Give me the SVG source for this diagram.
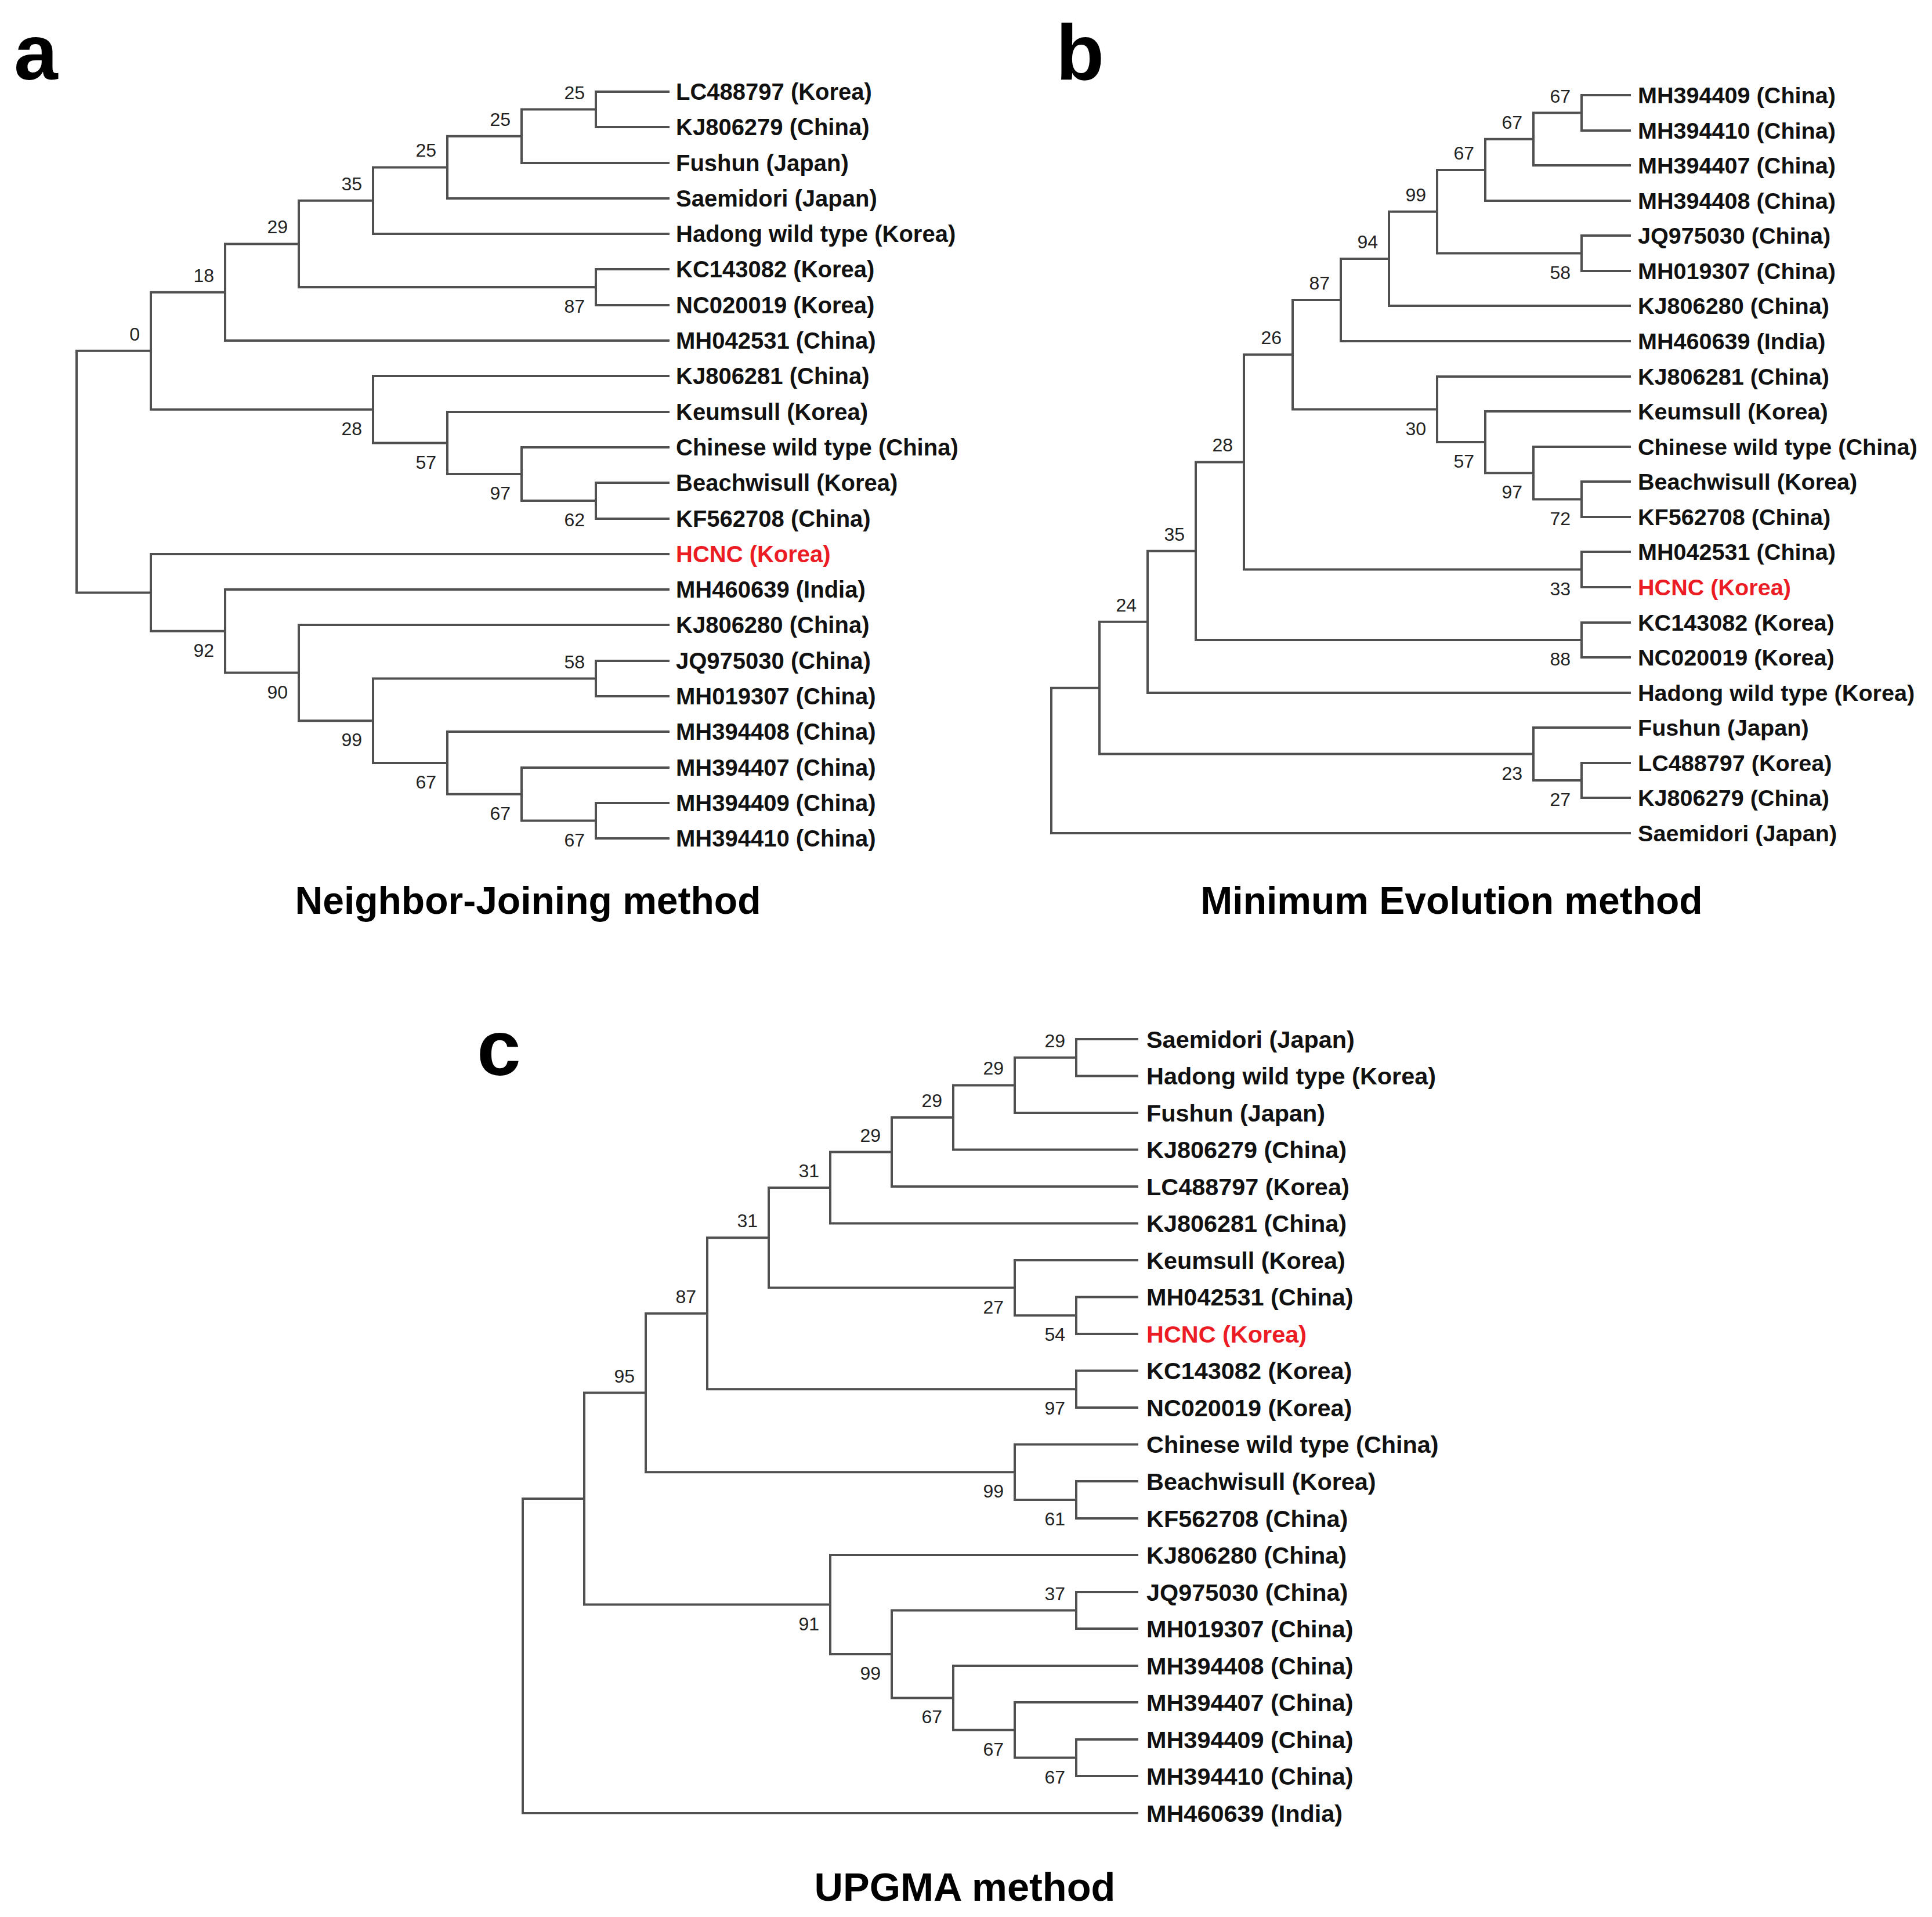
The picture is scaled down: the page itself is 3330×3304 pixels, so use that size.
<svg xmlns="http://www.w3.org/2000/svg" width="3330" height="3304" viewBox="0 0 3330 3304">
<style>
.br{fill:none;stroke:#505050;stroke-width:4;stroke-linecap:square;stroke-linejoin:miter}
.lf{font-family:"Liberation Sans",Arial,sans-serif;font-weight:bold;font-size:40px;fill:#111}
#b-leaves .lf{font-size:39.6px}
#c-leaves .lf{font-size:41.4px}
.red{fill:#ec1c24}
.bs{font-family:"Liberation Sans",Arial,sans-serif;font-size:32px;fill:#222;text-anchor:end}
.ttl{font-family:"Liberation Sans",Arial,sans-serif;font-weight:bold;font-size:66px;fill:#000;text-anchor:middle}
.pl{font-family:"Liberation Sans",Arial,sans-serif;font-weight:bold;font-size:136px;fill:#000}
</style>
<rect width="3330" height="3304" fill="#fff"/>

<!-- Panel a -->
<g id="panel-a">
<text class="pl" x="24" y="137">a</text>
<g id="a-connectors">
<path class="br" d="M260 604.7H132V1021.4H260"/>
<path class="br" d="M388 503.7H260V705.8H643"/>
<path class="br" d="M515 420.4H388V587H1152"/>
<path class="br" d="M643 345.7H515V495H1027"/>
<path class="br" d="M771 288.4H643V403H1152"/>
<path class="br" d="M899 234.75H771V342H1152"/>
<path class="br" d="M1027 188.5H899V281H1152"/>
<path class="br" d="M1152 158H1027V219H1152"/>
<path class="br" d="M1152 464H1027V526H1152"/>
<path class="br" d="M1152 648H643V763.5H771"/>
<path class="br" d="M1152 710H771V817H899"/>
<path class="br" d="M1152 771H899V863H1027"/>
<path class="br" d="M1152 832H1027V894H1152"/>
<path class="br" d="M1152 955H260V1087.8H388"/>
<path class="br" d="M1152 1016H388V1159.6H515"/>
<path class="br" d="M1152 1077H515V1242.2H643"/>
<path class="br" d="M1027 1169.5H643V1314.9H771"/>
<path class="br" d="M1152 1139H1027V1200H1152"/>
<path class="br" d="M1152 1261H771V1368.8H899"/>
<path class="br" d="M1152 1323H899V1414.5H1027"/>
<path class="br" d="M1152 1384H1027V1445H1152"/>
</g>
<g id="a-leaves">
<g id="a-LC488797"><text class="lf" x="1165" y="172">LC488797 (Korea)</text></g>
<g id="a-KJ806279"><text class="lf" x="1165" y="233">KJ806279 (China)</text></g>
<g id="a-Fushun"><text class="lf" x="1165" y="295">Fushun (Japan)</text></g>
<g id="a-Saemidori"><text class="lf" x="1165" y="356">Saemidori (Japan)</text></g>
<g id="a-Hadong"><text class="lf" x="1165" y="417">Hadong wild type (Korea)</text></g>
<g id="a-KC143082"><text class="lf" x="1165" y="478">KC143082 (Korea)</text></g>
<g id="a-NC020019"><text class="lf" x="1165" y="540">NC020019 (Korea)</text></g>
<g id="a-MH042531"><text class="lf" x="1165" y="601">MH042531 (China)</text></g>
<g id="a-KJ806281"><text class="lf" x="1165" y="662">KJ806281 (China)</text></g>
<g id="a-Keumsull"><text class="lf" x="1165" y="724">Keumsull (Korea)</text></g>
<g id="a-Chinese"><text class="lf" x="1165" y="785">Chinese wild type (China)</text></g>
<g id="a-Beachwisull"><text class="lf" x="1165" y="846">Beachwisull (Korea)</text></g>
<g id="a-KF562708"><text class="lf" x="1165" y="908">KF562708 (China)</text></g>
<g id="a-HCNC"><text class="lf red" x="1165" y="969">HCNC (Korea)</text></g>
<g id="a-MH460639"><text class="lf" x="1165" y="1030">MH460639 (India)</text></g>
<g id="a-KJ806280"><text class="lf" x="1165" y="1091">KJ806280 (China)</text></g>
<g id="a-JQ975030"><text class="lf" x="1165" y="1153">JQ975030 (China)</text></g>
<g id="a-MH019307"><text class="lf" x="1165" y="1214">MH019307 (China)</text></g>
<g id="a-MH394408"><text class="lf" x="1165" y="1275">MH394408 (China)</text></g>
<g id="a-MH394407"><text class="lf" x="1165" y="1337">MH394407 (China)</text></g>
<g id="a-MH394409"><text class="lf" x="1165" y="1398">MH394409 (China)</text></g>
<g id="a-MH394410"><text class="lf" x="1165" y="1459">MH394410 (China)</text></g>
</g>
<g id="a-bootstrap">
<text class="bs" x="1008" y="170.5">25</text>
<text class="bs" x="880" y="216.8">25</text>
<text class="bs" x="752" y="270.4">25</text>
<text class="bs" x="624" y="327.7">35</text>
<text class="bs" x="496" y="402.4">29</text>
<text class="bs" x="369" y="485.7">18</text>
<text class="bs" x="241" y="586.7">0</text>
<text class="bs" x="1008" y="539">87</text>
<text class="bs" x="624" y="749.8">28</text>
<text class="bs" x="752" y="807.5">57</text>
<text class="bs" x="880" y="861">97</text>
<text class="bs" x="1008" y="907">62</text>
<text class="bs" x="369" y="1131.8">92</text>
<text class="bs" x="496" y="1203.6">90</text>
<text class="bs" x="624" y="1286.2">99</text>
<text class="bs" x="1008" y="1151.5">58</text>
<text class="bs" x="752" y="1358.9">67</text>
<text class="bs" x="880" y="1412.8">67</text>
<text class="bs" x="1008" y="1458.5">67</text>
</g>
<text class="ttl" x="910" y="1575">Neighbor-Joining method</text>
</g>

<!-- Panel b -->
<g id="panel-b">
<text class="pl" x="1820" y="137">b</text>
<g id="b-connectors">
<path class="br" d="M1895 1185.7H1812V1436H2809"/>
<path class="br" d="M1978 1071.8H1895V1299.5H2643"/>
<path class="br" d="M2061 949.7H1978V1194H2809"/>
<path class="br" d="M2144 796.4H2061V1103H2726"/>
<path class="br" d="M2228 611.2H2144V981.5H2726"/>
<path class="br" d="M2311 516.9H2228V705.6H2477"/>
<path class="br" d="M2394 445.9H2311V588H2809"/>
<path class="br" d="M2477 364.7H2394V527H2809"/>
<path class="br" d="M2560 292.9H2477V436.5H2726"/>
<path class="br" d="M2643 239.75H2560V346H2809"/>
<path class="br" d="M2726 194.5H2643V285H2809"/>
<path class="br" d="M2809 164H2726V225H2809"/>
<path class="br" d="M2809 406H2726V467H2809"/>
<path class="br" d="M2809 649H2477V762.1H2560"/>
<path class="br" d="M2809 709H2560V815.25H2643"/>
<path class="br" d="M2809 770H2643V860.5H2726"/>
<path class="br" d="M2809 830H2726V891H2809"/>
<path class="br" d="M2809 951H2726V1012H2809"/>
<path class="br" d="M2809 1073H2726V1133H2809"/>
<path class="br" d="M2809 1254H2643V1345H2726"/>
<path class="br" d="M2809 1315H2726V1375H2809"/>
</g>
<g id="b-leaves">
<g id="b-MH394409"><text class="lf" x="2823" y="178">MH394409 (China)</text></g>
<g id="b-MH394410"><text class="lf" x="2823" y="239">MH394410 (China)</text></g>
<g id="b-MH394407"><text class="lf" x="2823" y="299">MH394407 (China)</text></g>
<g id="b-MH394408"><text class="lf" x="2823" y="360">MH394408 (China)</text></g>
<g id="b-JQ975030"><text class="lf" x="2823" y="420">JQ975030 (China)</text></g>
<g id="b-MH019307"><text class="lf" x="2823" y="481">MH019307 (China)</text></g>
<g id="b-KJ806280"><text class="lf" x="2823" y="541">KJ806280 (China)</text></g>
<g id="b-MH460639"><text class="lf" x="2823" y="602">MH460639 (India)</text></g>
<g id="b-KJ806281"><text class="lf" x="2823" y="663">KJ806281 (China)</text></g>
<g id="b-Keumsull"><text class="lf" x="2823" y="723">Keumsull (Korea)</text></g>
<g id="b-Chinese"><text class="lf" x="2823" y="784">Chinese wild type (China)</text></g>
<g id="b-Beachwisull"><text class="lf" x="2823" y="844">Beachwisull (Korea)</text></g>
<g id="b-KF562708"><text class="lf" x="2823" y="905">KF562708 (China)</text></g>
<g id="b-MH042531"><text class="lf" x="2823" y="965">MH042531 (China)</text></g>
<g id="b-HCNC"><text class="lf red" x="2823" y="1026">HCNC (Korea)</text></g>
<g id="b-KC143082"><text class="lf" x="2823" y="1087">KC143082 (Korea)</text></g>
<g id="b-NC020019"><text class="lf" x="2823" y="1147">NC020019 (Korea)</text></g>
<g id="b-Hadong"><text class="lf" x="2823" y="1208">Hadong wild type (Korea)</text></g>
<g id="b-Fushun"><text class="lf" x="2823" y="1268">Fushun (Japan)</text></g>
<g id="b-LC488797"><text class="lf" x="2823" y="1329">LC488797 (Korea)</text></g>
<g id="b-KJ806279"><text class="lf" x="2823" y="1389">KJ806279 (China)</text></g>
<g id="b-Saemidori"><text class="lf" x="2823" y="1450">Saemidori (Japan)</text></g>
</g>
<g id="b-bootstrap">
<text class="bs" x="2707" y="176.5">67</text>
<text class="bs" x="2624" y="221.8">67</text>
<text class="bs" x="2541" y="274.9">67</text>
<text class="bs" x="2458" y="346.7">99</text>
<text class="bs" x="2375" y="427.9">94</text>
<text class="bs" x="2292" y="498.9">87</text>
<text class="bs" x="2209" y="593.2">26</text>
<text class="bs" x="2125" y="778.4">28</text>
<text class="bs" x="2042" y="931.7">35</text>
<text class="bs" x="1959" y="1053.8">24</text>
<text class="bs" x="2707" y="480.5">58</text>
<text class="bs" x="2458" y="749.6">30</text>
<text class="bs" x="2541" y="806.1">57</text>
<text class="bs" x="2624" y="859.3">97</text>
<text class="bs" x="2707" y="904.5">72</text>
<text class="bs" x="2707" y="1025.5">33</text>
<text class="bs" x="2707" y="1147">88</text>
<text class="bs" x="2624" y="1343.5">23</text>
<text class="bs" x="2707" y="1389">27</text>
</g>
<text class="ttl" x="2502" y="1575">Minimum Evolution method</text>
</g>

<!-- Panel c -->
<g id="panel-c">
<text class="pl" x="822" y="1853">c</text>
<g id="c-connectors">
<path class="br" d="M1007 2583H901V3125H1960"/>
<path class="br" d="M1113 2400.5H1007V2765.5H1431"/>
<path class="br" d="M1219 2263.8H1113V2537.25H1749"/>
<path class="br" d="M1325 2133.3H1219V2394.25H1855"/>
<path class="br" d="M1431 2047H1325V2219.6H1749"/>
<path class="br" d="M1537 1985.5H1431V2108.5H1960"/>
<path class="br" d="M1643 1925.9H1537V2045H1960"/>
<path class="br" d="M1749 1870.4H1643V1981.5H1960"/>
<path class="br" d="M1855 1822.75H1749V1918H1960"/>
<path class="br" d="M1960 1791H1855V1854.5H1960"/>
<path class="br" d="M1960 2172H1749V2267.25H1855"/>
<path class="br" d="M1960 2235.5H1855V2299H1960"/>
<path class="br" d="M1960 2362.5H1855V2426H1960"/>
<path class="br" d="M1960 2489.5H1749V2585H1855"/>
<path class="br" d="M1960 2553H1855V2617H1960"/>
<path class="br" d="M1960 2680H1431V2851H1537"/>
<path class="br" d="M1855 2775.5H1537V2926.4H1643"/>
<path class="br" d="M1960 2744H1855V2807H1960"/>
<path class="br" d="M1960 2871H1643V2981.75H1749"/>
<path class="br" d="M1960 2934H1749V3029.5H1855"/>
<path class="br" d="M1960 2998H1855V3061H1960"/>
</g>
<g id="c-leaves">
<g id="c-Saemidori"><text class="lf" x="1976" y="1805.5">Saemidori (Japan)</text></g>
<g id="c-Hadong"><text class="lf" x="1976" y="1869">Hadong wild type (Korea)</text></g>
<g id="c-Fushun"><text class="lf" x="1976" y="1932.5">Fushun (Japan)</text></g>
<g id="c-KJ806279"><text class="lf" x="1976" y="1996">KJ806279 (China)</text></g>
<g id="c-LC488797"><text class="lf" x="1976" y="2059.5">LC488797 (Korea)</text></g>
<g id="c-KJ806281"><text class="lf" x="1976" y="2123">KJ806281 (China)</text></g>
<g id="c-Keumsull"><text class="lf" x="1976" y="2186.5">Keumsull (Korea)</text></g>
<g id="c-MH042531"><text class="lf" x="1976" y="2250">MH042531 (China)</text></g>
<g id="c-HCNC"><text class="lf red" x="1976" y="2313.5">HCNC (Korea)</text></g>
<g id="c-KC143082"><text class="lf" x="1976" y="2377">KC143082 (Korea)</text></g>
<g id="c-NC020019"><text class="lf" x="1976" y="2440.5">NC020019 (Korea)</text></g>
<g id="c-Chinese"><text class="lf" x="1976" y="2504">Chinese wild type (China)</text></g>
<g id="c-Beachwisull"><text class="lf" x="1976" y="2567.5">Beachwisull (Korea)</text></g>
<g id="c-KF562708"><text class="lf" x="1976" y="2631.5">KF562708 (China)</text></g>
<g id="c-KJ806280"><text class="lf" x="1976" y="2694.5">KJ806280 (China)</text></g>
<g id="c-JQ975030"><text class="lf" x="1976" y="2758.5">JQ975030 (China)</text></g>
<g id="c-MH019307"><text class="lf" x="1976" y="2821.5">MH019307 (China)</text></g>
<g id="c-MH394408"><text class="lf" x="1976" y="2885.5">MH394408 (China)</text></g>
<g id="c-MH394407"><text class="lf" x="1976" y="2948.5">MH394407 (China)</text></g>
<g id="c-MH394409"><text class="lf" x="1976" y="3012.5">MH394409 (China)</text></g>
<g id="c-MH394410"><text class="lf" x="1976" y="3075.5">MH394410 (China)</text></g>
<g id="c-MH460639"><text class="lf" x="1976" y="3139.5">MH460639 (India)</text></g>
</g>
<g id="c-bootstrap">
<text class="bs" x="1836" y="1804.8">29</text>
<text class="bs" x="1730" y="1852.4">29</text>
<text class="bs" x="1624" y="1907.9">29</text>
<text class="bs" x="1518" y="1967.5">29</text>
<text class="bs" x="1412" y="2029">31</text>
<text class="bs" x="1306" y="2115.3">31</text>
<text class="bs" x="1200" y="2245.8">87</text>
<text class="bs" x="1094" y="2382.5">95</text>
<text class="bs" x="1730" y="2263.6">27</text>
<text class="bs" x="1836" y="2311.3">54</text>
<text class="bs" x="1836" y="2438.3">97</text>
<text class="bs" x="1730" y="2581.3">99</text>
<text class="bs" x="1836" y="2629">61</text>
<text class="bs" x="1412" y="2809.5">91</text>
<text class="bs" x="1518" y="2895">99</text>
<text class="bs" x="1836" y="2757.5">37</text>
<text class="bs" x="1624" y="2970.4">67</text>
<text class="bs" x="1730" y="3025.8">67</text>
<text class="bs" x="1836" y="3073.5">67</text>
</g>
<text class="ttl" x="1663" y="3276" style="font-size:68.5px">UPGMA method</text>
</g>
</svg>
